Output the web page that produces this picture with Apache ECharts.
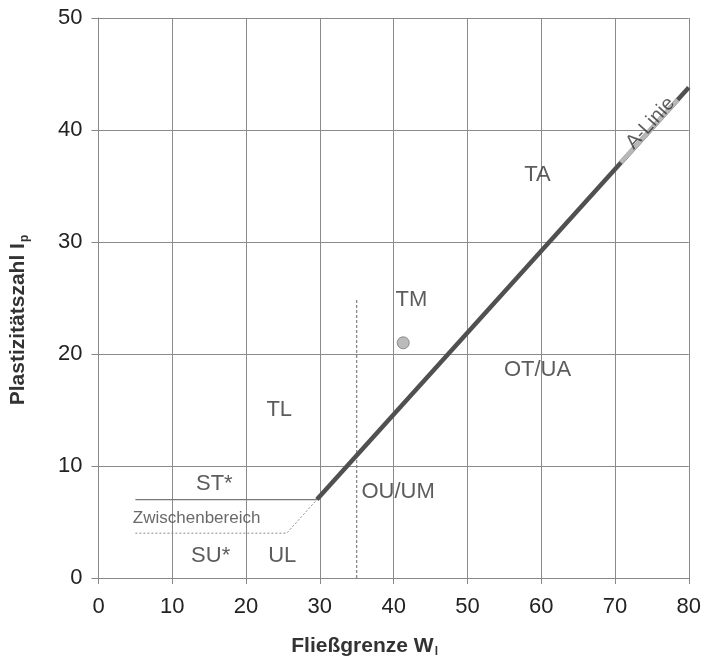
<!DOCTYPE html>
<html><head><meta charset="utf-8">
<script src="https://cdn.jsdelivr.net/npm/echarts@6/dist/echarts.min.js"></script>
<style>html,body{margin:0;padding:0;background:#fff}#c{width:704px;height:663px}</style>
</head><body><div id="c"></div>
<script>
// A-line (thick)
var aLineX = [29.6, 80];
var aLineY = [7, 43.8];
// lighter stretch of the A-line under its label
var aLightX = [70.8, 78.5];
var aLightY = [37.1, 42.7];
// Zwischenbereich upper boundary (solid thin)
var upperX = [5, 29.6];
var upperY = [7, 7];
// Zwischenbereich lower boundary (dotted)
var lowerX = [5, 25.5, 29.6];
var lowerY = [4, 4, 7];
// vertical dotted line at wL = 35
var vertX = [35, 35];
var vertY = [0, 25];
// sample point
var pointX = [41.3];
var pointY = [21];
// region labels
var labelText = ['TA', 'TM', 'OT/UA', 'TL', 'OU/UM', 'ST*', 'SU*', 'UL'];
var labelX = [59.5, 42.4, 59.5, 24.5, 40.6, 15.7, 15.2, 24.9];
var labelY = [36, 24.8, 18.6, 15, 7.7, 8.4, 2.0, 2.0];
var zwText = 'Zwischenbereich';
var zwPos = [13.3, 5.3];
var aLabelText = 'A-Linie';
var aLabelPos = [74.8, 40.6];
// axis ticks
var xTicks = [0, 10, 20, 30, 40, 50, 60, 70, 80];
var yTicks = [0, 10, 20, 30, 40, 50];

function pts(xs, ys) { return xs.map(function (x, i) { return [x, ys[i]]; }); }

var font = 'Liberation Sans, Arial, sans-serif';
var chart = echarts.init(document.getElementById('c'));
chart.setOption({
  animation: false,
  grid: { left: 98, right: 12, top: 18, bottom: 85 },
  xAxis: {
    type: 'value', min: xTicks[0], max: xTicks[xTicks.length - 1], interval: 10,
    axisLine: { show: true, onZero: false, lineStyle: { color: '#888', width: 1 } },
    axisTick: { show: true, length: 6, lineStyle: { color: '#888' } },
    splitLine: { show: true, lineStyle: { color: '#8a8a8a', width: 1 } },
    axisLabel: { color: '#222', fontSize: 22, fontFamily: font, margin: 18 },
    name: '{b|Fließgrenze W}{s|l}',
    nameLocation: 'middle', nameGap: 56,
    nameTextStyle: { padding: [0, 58, 0, 0], rich: {
      b: { fontSize: 21, fontWeight: 'bold', color: '#333', fontFamily: font },
      s: { fontSize: 12, fontWeight: 'bold', color: '#333', fontFamily: font, padding: [12, 0, 0, 1] }
    } }
  },
  yAxis: {
    type: 'value', min: yTicks[0], max: yTicks[yTicks.length - 1], interval: 10,
    axisLine: { show: true, lineStyle: { color: '#888', width: 1 } },
    axisTick: { show: true, length: 7, lineStyle: { color: '#888' } },
    splitLine: { show: true, lineStyle: { color: '#8a8a8a', width: 1 } },
    axisLabel: { color: '#222', fontSize: 22, fontFamily: font, margin: 16 },
    name: '{b|Plastizitätszahl I}{s|p}',
    nameLocation: 'middle', nameGap: 68, nameRotate: 90,
    nameTextStyle: { padding: [0, 44, 0, 0], rich: {
      b: { fontSize: 21, fontWeight: 'bold', color: '#333', fontFamily: font },
      s: { fontSize: 12, fontWeight: 'bold', color: '#333', fontFamily: font, padding: [12, 0, 0, 1] }
    } }
  },
  series: [
    { type: 'line', data: pts(upperX, upperY), symbol: 'none', lineStyle: { color: '#777', width: 1.2 }, z: 3 },
    { type: 'line', data: pts(lowerX, lowerY), symbol: 'none', lineStyle: { color: '#888', width: 1, type: [2, 2] }, z: 3 },
    { type: 'line', data: pts(vertX, vertY), symbol: 'none', lineStyle: { color: '#666', width: 1, type: [3, 2] }, z: 3 },
    { type: 'line', data: pts(aLineX, aLineY), symbol: 'none', lineStyle: { color: '#505050', width: 4.5 }, z: 4 },
    { type: 'line', data: pts(aLightX, aLightY), symbol: 'none', lineStyle: { color: '#b8b8b8', width: 4.5 }, z: 4 },
    { type: 'scatter', data: pts(pointX, pointY), symbol: 'circle', symbolSize: 12,
      itemStyle: { color: '#aaa', borderColor: '#777', borderWidth: 1 }, z: 5 },
    { type: 'scatter', symbolSize: 0, z: 6,
      data: labelText.map(function (t, i) { return { name: t, value: [labelX[i], labelY[i]] }; }),
      label: { show: true, position: 'inside', formatter: '{b}', color: '#333', fontSize: 22, fontFamily: font } },
    { type: 'scatter', symbolSize: 0, z: 6,
      data: [{ name: zwText, value: zwPos }],
      label: { show: true, position: 'inside', formatter: '{b}', color: '#444', fontSize: 17, fontFamily: font } },
    { type: 'scatter', symbolSize: 0, z: 7,
      data: [{ name: aLabelText, value: aLabelPos }],
      label: { show: true, position: 'inside', formatter: '{b}', rotate: 48, color: '#333', fontSize: 20, fontFamily: font } }
  ]
});
</script></body></html>
